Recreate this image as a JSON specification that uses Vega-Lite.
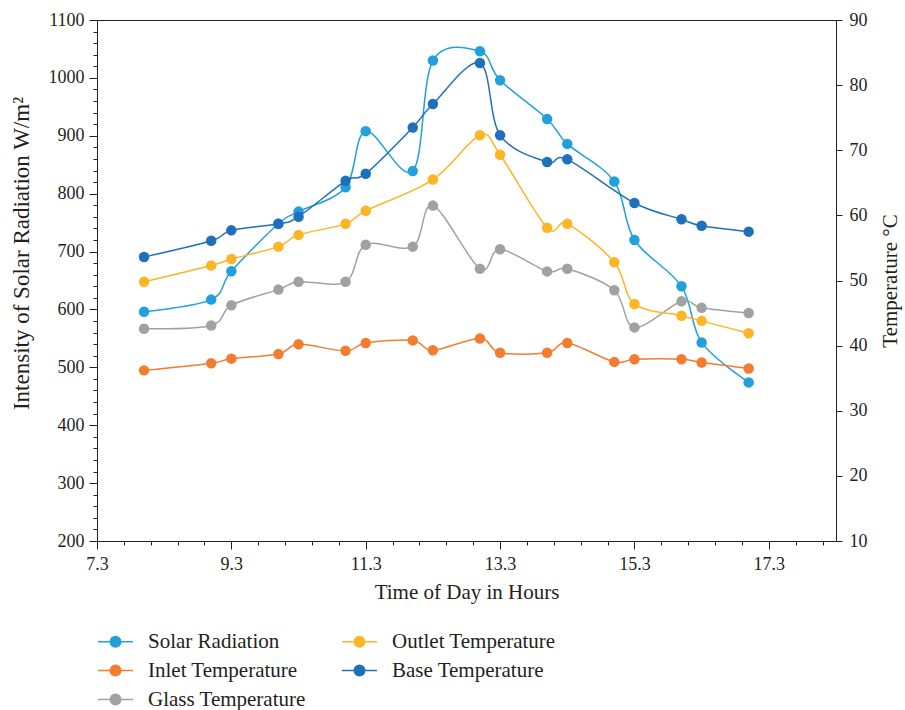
{
  "$schema": "https://vega.github.io/schema/vega-lite/v6.json",
  "autosize": "none",
  "width": 739,
  "height": 521,
  "padding": {"left": 97, "top": 20, "right": 69, "bottom": 169},
  "background": "white",
  "config": {
    "font": "Liberation Serif",
    "view": {"stroke": "#231f20", "strokeWidth": 1},
    "axis": {
      "domainColor": "#231f20", "tickColor": "#231f20", "labelColor": "#231f20", "titleColor": "#231f20",
      "labelFont": "Liberation Serif", "titleFont": "Liberation Serif",
      "labelFontSize": 18, "titleFontSize": 21, "titleFontWeight": "normal",
      "grid": false, "domainWidth": 1, "tickWidth": 1, "labelFlush": false, "labelOverlap": false
    },
    "legend": {"labelFont": "Liberation Serif"}
  },
  "data": {
    "values": [
      {"s": "Solar Radiation", "t": 8.0, "v": 596},
      {"s": "Solar Radiation", "t": 9.0, "v": 617},
      {"s": "Solar Radiation", "t": 9.3, "v": 666},
      {"s": "Solar Radiation", "t": 10.0, "v": 748},
      {"s": "Solar Radiation", "t": 10.3, "v": 769},
      {"s": "Solar Radiation", "t": 11.0, "v": 811},
      {"s": "Solar Radiation", "t": 11.3, "v": 908},
      {"s": "Solar Radiation", "t": 12.0, "v": 839},
      {"s": "Solar Radiation", "t": 12.3, "v": 1030},
      {"s": "Solar Radiation", "t": 13.0, "v": 1046},
      {"s": "Solar Radiation", "t": 13.3, "v": 996},
      {"s": "Solar Radiation", "t": 14.0, "v": 929},
      {"s": "Solar Radiation", "t": 14.3, "v": 886},
      {"s": "Solar Radiation", "t": 15.0, "v": 821},
      {"s": "Solar Radiation", "t": 15.3, "v": 720},
      {"s": "Solar Radiation", "t": 16.0, "v": 640},
      {"s": "Solar Radiation", "t": 16.3, "v": 543},
      {"s": "Solar Radiation", "t": 17.0, "v": 474},

      {"s": "Inlet Temperature", "t": 8.0, "v": 36.2},
      {"s": "Inlet Temperature", "t": 9.0, "v": 37.3},
      {"s": "Inlet Temperature", "t": 9.3, "v": 38.0},
      {"s": "Inlet Temperature", "t": 10.0, "v": 38.7},
      {"s": "Inlet Temperature", "t": 10.3, "v": 40.2},
      {"s": "Inlet Temperature", "t": 11.0, "v": 39.2},
      {"s": "Inlet Temperature", "t": 11.3, "v": 40.4},
      {"s": "Inlet Temperature", "t": 12.0, "v": 40.8},
      {"s": "Inlet Temperature", "t": 12.3, "v": 39.3},
      {"s": "Inlet Temperature", "t": 13.0, "v": 41.1},
      {"s": "Inlet Temperature", "t": 13.3, "v": 38.9},
      {"s": "Inlet Temperature", "t": 14.0, "v": 38.9},
      {"s": "Inlet Temperature", "t": 14.3, "v": 40.4},
      {"s": "Inlet Temperature", "t": 15.0, "v": 37.5},
      {"s": "Inlet Temperature", "t": 15.3, "v": 37.9},
      {"s": "Inlet Temperature", "t": 16.0, "v": 37.9},
      {"s": "Inlet Temperature", "t": 16.3, "v": 37.4},
      {"s": "Inlet Temperature", "t": 17.0, "v": 36.5},

      {"s": "Glass Temperature", "t": 8.0, "v": 42.6},
      {"s": "Glass Temperature", "t": 9.0, "v": 43.1},
      {"s": "Glass Temperature", "t": 9.3, "v": 46.2},
      {"s": "Glass Temperature", "t": 10.0, "v": 48.6},
      {"s": "Glass Temperature", "t": 10.3, "v": 49.8},
      {"s": "Glass Temperature", "t": 11.0, "v": 49.8},
      {"s": "Glass Temperature", "t": 11.3, "v": 55.5},
      {"s": "Glass Temperature", "t": 12.0, "v": 55.2},
      {"s": "Glass Temperature", "t": 12.3, "v": 61.5},
      {"s": "Glass Temperature", "t": 13.0, "v": 51.8},
      {"s": "Glass Temperature", "t": 13.3, "v": 54.8},
      {"s": "Glass Temperature", "t": 14.0, "v": 51.4},
      {"s": "Glass Temperature", "t": 14.3, "v": 51.8},
      {"s": "Glass Temperature", "t": 15.0, "v": 48.5},
      {"s": "Glass Temperature", "t": 15.3, "v": 42.8},
      {"s": "Glass Temperature", "t": 16.0, "v": 46.8},
      {"s": "Glass Temperature", "t": 16.3, "v": 45.8},
      {"s": "Glass Temperature", "t": 17.0, "v": 45.0},

      {"s": "Outlet Temperature", "t": 8.0, "v": 49.8},
      {"s": "Outlet Temperature", "t": 9.0, "v": 52.3},
      {"s": "Outlet Temperature", "t": 9.3, "v": 53.3},
      {"s": "Outlet Temperature", "t": 10.0, "v": 55.2},
      {"s": "Outlet Temperature", "t": 10.3, "v": 57.0},
      {"s": "Outlet Temperature", "t": 11.0, "v": 58.7},
      {"s": "Outlet Temperature", "t": 11.3, "v": 60.7},
      {"s": "Outlet Temperature", "t": 12.3, "v": 65.5},
      {"s": "Outlet Temperature", "t": 13.0, "v": 72.3},
      {"s": "Outlet Temperature", "t": 13.3, "v": 69.3},
      {"s": "Outlet Temperature", "t": 14.0, "v": 58.1},
      {"s": "Outlet Temperature", "t": 14.3, "v": 58.7},
      {"s": "Outlet Temperature", "t": 15.0, "v": 52.8},
      {"s": "Outlet Temperature", "t": 15.3, "v": 46.4},
      {"s": "Outlet Temperature", "t": 16.0, "v": 44.6},
      {"s": "Outlet Temperature", "t": 16.3, "v": 43.8},
      {"s": "Outlet Temperature", "t": 17.0, "v": 41.9},

      {"s": "Base Temperature", "t": 8.0, "v": 53.6},
      {"s": "Base Temperature", "t": 9.0, "v": 56.1},
      {"s": "Base Temperature", "t": 9.3, "v": 57.7},
      {"s": "Base Temperature", "t": 10.0, "v": 58.7},
      {"s": "Base Temperature", "t": 10.3, "v": 59.8},
      {"s": "Base Temperature", "t": 11.0, "v": 65.3},
      {"s": "Base Temperature", "t": 11.3, "v": 66.4},
      {"s": "Base Temperature", "t": 12.0, "v": 73.5},
      {"s": "Base Temperature", "t": 12.3, "v": 77.1},
      {"s": "Base Temperature", "t": 13.0, "v": 83.4},
      {"s": "Base Temperature", "t": 13.3, "v": 72.3},
      {"s": "Base Temperature", "t": 14.0, "v": 68.2},
      {"s": "Base Temperature", "t": 14.3, "v": 68.6},
      {"s": "Base Temperature", "t": 15.3, "v": 61.9},
      {"s": "Base Temperature", "t": 16.0, "v": 59.4},
      {"s": "Base Temperature", "t": 16.3, "v": 58.4},
      {"s": "Base Temperature", "t": 17.0, "v": 57.5}
    ]
  },
  "encoding": {
    "x": {
      "field": "t", "type": "quantitative",
      "scale": {"domain": [7.3, 18.3], "nice": false, "zero": false},
      "axis": {
        "title": "Time of Day in Hours",
        "labelFont": "Liberation Serif",
        "values": [7.3, 7.7, 8.1, 8.5, 8.9, 9.3, 9.7, 10.1, 10.5, 10.9, 11.3, 11.7, 12.1, 12.5, 12.9, 13.3, 13.7, 14.1, 14.5, 14.9, 15.3, 15.7, 16.1, 16.5, 16.9, 17.3, 17.7, 18.1],
        "labelExpr": "indexof([7.3, 9.3, 11.3, 13.3, 15.3, 17.3], datum.value) >= 0 ? format(datum.value, '.1f') : ''",
        "tickSize": {"condition": {"test": "indexof([7.3, 9.3, 11.3, 13.3, 15.3, 17.3], datum.value) >= 0", "value": 8}, "value": 4},
        "labelPadding": 6,
        "titlePadding": 8
      }
    },
    "color": {
      "field": "s", "type": "nominal",
      "scale": {
        "domain": ["Solar Radiation", "Inlet Temperature", "Glass Temperature", "Outlet Temperature", "Base Temperature"],
        "range": ["#22a0db", "#f47c30", "#a0a1a2", "#fcb525", "#1f70bb"]
      },
      "legend": {
        "title": null,
        "orient": "none",
        "legendX": 0,
        "legendY": 603,
        "columns": 2,
        "direction": "vertical",
        "symbolType": "M-1,0L1,0M-0.3,0A0.3,0.3,0,1,1,0.3,0A0.3,0.3,0,1,1,-0.3,0Z",
        "symbolSize": 1225,
        "symbolStrokeWidth": 1.5,
        "labelFont": "Liberation Serif",
        "labelFontSize": 21,
        "labelColor": "#231f20",
        "labelOffset": 14,
        "columnPadding": 33,
        "rowPadding": -10,
        "labelLimit": 400,
        "encode": {
          "symbols": {
            "update": {
              "fill": {"scale": "color", "field": "value"},
              "stroke": {"scale": "color", "field": "value"},
              "opacity": {"value": 1}
            }
          },
          "labels": {"update": {"font": {"value": "Liberation Serif"}}}
        }
      }
    }
  },
  "layer": [
    {
      "transform": [{"filter": "datum.s === 'Solar Radiation'"}],
      "encoding": {
        "y": {
          "field": "v", "type": "quantitative",
          "scale": {"domain": [200, 1100], "nice": false, "zero": false},
          "axis": {
            "title": "Intensity of Solar Radiation W/m²",
            "titleFontSize": 23,
            "labelFont": "Liberation Serif",
            "values": [200, 220, 240, 260, 280, 300, 320, 340, 360, 380, 400, 420, 440, 460, 480, 500, 520, 540, 560, 580, 600, 620, 640, 660, 680, 700, 720, 740, 760, 780, 800, 820, 840, 860, 880, 900, 920, 940, 960, 980, 1000, 1020, 1040, 1060, 1080, 1100],
            "format": "d",
            "labelExpr": "datum.value % 100 === 0 ? datum.label : ''",
            "tickSize": {"condition": {"test": "datum.value % 100 === 0", "value": 8}, "value": 4},
            "labelPadding": 5,
            "titleX": -64,
            "titleY": 233
          }
        }
      },
      "layer": [
        {"mark": {"type": "line", "interpolate": "cardinal", "strokeWidth": 1.5}},
        {"mark": {"type": "point", "filled": true, "size": 110, "opacity": 1}}
      ]
    },
    {
      "transform": [{"filter": "datum.s !== 'Solar Radiation'"}],
      "encoding": {
        "y": {
          "field": "v", "type": "quantitative",
          "scale": {"domain": [10, 90], "nice": false, "zero": false},
          "axis": {
            "orient": "right",
            "title": "Temperature °C",
            "labelFont": "Liberation Serif",
            "values": [10, 20, 30, 40, 50, 60, 70, 80, 90],
            "tickSize": 6,
            "labelPadding": 7,
            "titleAngle": 270,
            "titleBaseline": "top",
            "titlePadding": 12
          }
        }
      },
      "layer": [
        {"mark": {"type": "line", "interpolate": "cardinal", "strokeWidth": 1.5}},
        {"mark": {"type": "point", "filled": true, "size": 110, "opacity": 1}}
      ]
    }
  ],
  "resolve": {"scale": {"y": "independent"}}
}
